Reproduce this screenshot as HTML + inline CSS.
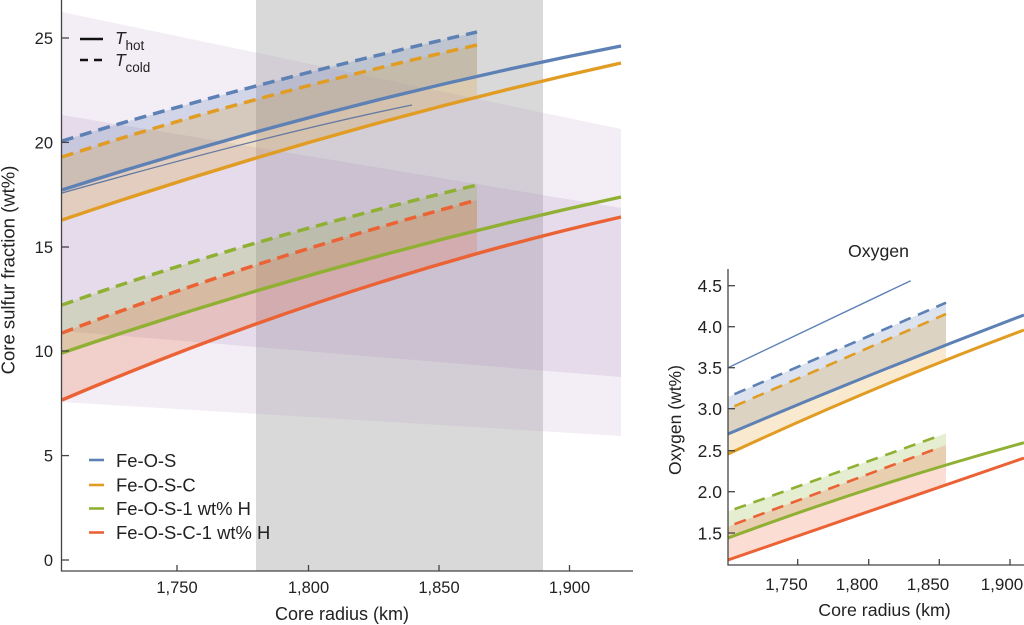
<!DOCTYPE html>
<html><head><meta charset="utf-8"><style>
html,body{margin:0;padding:0;background:#fff;}
svg{display:block;}
text{font-family:"Liberation Sans",Arial,sans-serif;fill:#222;}
</style></head><body>
<svg width="1024" height="625" viewBox="0 0 1024 625" xmlns="http://www.w3.org/2000/svg">
<defs>
<clipPath id="cl"><rect x="62" y="0" width="415" height="571"/></clipPath>
<clipPath id="cr"><rect x="728" y="260" width="218" height="305"/></clipPath>
</defs>
<!-- LEFT CHART -->
<rect x="256" y="0" width="287" height="571" fill="#d9d9d9"/>
<polygon points="62,12 621,129 621,436 62,402" fill="#b89bc4" fill-opacity="0.17"/>
<polygon points="62,115 621,208 621,377 62,331" fill="#b08fc0" fill-opacity="0.2"/>
<!-- fills -->
<g clip-path="url(#cl)">
<path d="M62,141 Q242.5,85.5 477,32 L621,0 L621,46 Q341.5,100.3 62,190 Z" fill="#5E81B5" fill-opacity="0.22"/>
<path d="M62,157 Q242.5,98 477,45 L621,12 L621,63 Q341.5,124.9 62,220 Z" fill="#E19C24" fill-opacity="0.22"/>
<path d="M62,305 Q242.5,241 477,185 L621,150 L621,197 Q341.5,257.6 62,353 Z" fill="#8FB032" fill-opacity="0.22"/>
<path d="M62,333 Q242.5,263.5 477,200 L621,160 L621,217 Q341.5,280.9 62,400 Z" fill="#EB6235" fill-opacity="0.22"/>
</g>
<!-- lines -->
<g fill="none" stroke-linejoin="round">
<path d="M62,193 Q275,133 412,105" stroke="#6479a0" stroke-width="1.3"/>
<path d="M62,141 Q242.5,85.5 477,32" stroke="#5E81B5" stroke-width="3.5" stroke-dasharray="12 7"/>
<path d="M62,157 Q242.5,98 477,45" stroke="#E19C24" stroke-width="3.5" stroke-dasharray="12 7"/>
<path d="M62,305 Q242.5,241 477,185" stroke="#8FB032" stroke-width="3.5" stroke-dasharray="12 7"/>
<path d="M62,333 Q242.5,263.5 477,200" stroke="#EB6235" stroke-width="3.5" stroke-dasharray="12 7"/>
<path d="M62,190 Q341.5,100.3 621,46" stroke="#5E81B5" stroke-width="3.4"/>
<path d="M62,220 Q341.5,124.9 621,63" stroke="#E19C24" stroke-width="3.4"/>
<path d="M62,353 Q341.5,257.6 621,197" stroke="#8FB032" stroke-width="3.4"/>
<path d="M62,400 Q341.5,280.9 621,217" stroke="#EB6235" stroke-width="3.4"/>
</g>
<!-- axes -->
<g stroke="#444" stroke-width="1.3" fill="none">
<line x1="61.5" y1="0" x2="61.5" y2="571.5"/>
<line x1="61" y1="571" x2="633" y2="571"/>
<line x1="62" y1="560" x2="69" y2="560"/>
<line x1="62" y1="455.6" x2="69" y2="455.6"/>
<line x1="62" y1="351" x2="69" y2="351"/>
<line x1="62" y1="247" x2="69" y2="247"/>
<line x1="62" y1="142.4" x2="69" y2="142.4"/>
<line x1="62" y1="38" x2="69" y2="38"/>
<line x1="177" y1="571" x2="177" y2="565"/>
<line x1="308.5" y1="571" x2="308.5" y2="565"/>
<line x1="439" y1="571" x2="439" y2="565"/>
<line x1="569.5" y1="571" x2="569.5" y2="565"/>
</g>
<g font-size="16.5" text-anchor="end">
<text x="53" y="566">0</text>
<text x="53" y="461.6">5</text>
<text x="53" y="357">10</text>
<text x="53" y="253">15</text>
<text x="53" y="148.4">20</text>
<text x="53" y="44">25</text>
</g>
<g font-size="16.5" text-anchor="middle">
<text x="177" y="593">1,750</text>
<text x="308.5" y="593">1,800</text>
<text x="439" y="593">1,850</text>
<text x="569.5" y="593">1,900</text>
</g>
<text x="342" y="620" font-size="18" text-anchor="middle">Core radius (km)</text>
<text transform="translate(14.5,270) rotate(-90)" font-size="18.5" text-anchor="middle">Core sulfur fraction (wt%)</text>
<!-- T legend -->
<line x1="80" y1="39" x2="103" y2="39" stroke="#111" stroke-width="2.6"/>
<line x1="80" y1="60" x2="103" y2="60" stroke="#111" stroke-width="2.6" stroke-dasharray="8 6"/>
<text x="115" y="44" font-size="17.5" font-style="italic">T</text>
<text x="125.5" y="50" font-size="13.5">hot</text>
<text x="115" y="66" font-size="17.5" font-style="italic">T</text>
<text x="125.5" y="72" font-size="13.5">cold</text>
<!-- series legend -->
<g stroke-width="2.6">
<line x1="89" y1="460" x2="104" y2="460" stroke="#5E81B5"/>
<line x1="89" y1="485" x2="104" y2="485" stroke="#E19C24"/>
<line x1="89" y1="508.5" x2="104" y2="508.5" stroke="#8FB032"/>
<line x1="89" y1="532.5" x2="104" y2="532.5" stroke="#EB6235"/>
</g>
<g font-size="18.4">
<text x="116" y="466.8">Fe-O-S</text>
<text x="116" y="491.3">Fe-O-S-C</text>
<text x="116" y="514.8">Fe-O-S-1 wt% H</text>
<text x="116" y="538.8">Fe-O-S-C-1 wt% H</text>
</g>

<!-- RIGHT CHART -->
<g clip-path="url(#cr)">
<path d="M728,397 L946,302.7 L1024,270 L1024,315 Q876,371.1 728,434 Z" fill="#5E81B5" fill-opacity="0.22"/>
<path d="M728,409 L946,314 L1024,280 L1024,330 Q876,385.2 728,454 Z" fill="#E19C24" fill-opacity="0.22"/>
<path d="M728,511.5 L946,433.4 L1024,405 L1024,442.7 Q876,483.2 728,538 Z" fill="#8FB032" fill-opacity="0.22"/>
<path d="M728,526.6 L946,445 L1024,415 L1024,458 Q876,509.4 728,560 Z" fill="#EB6235" fill-opacity="0.22"/>
</g>
<g fill="none" stroke-linejoin="round">
<line x1="728" y1="367.7" x2="910.7" y2="280.7" stroke="#5E81B5" stroke-width="1.4"/>
<line x1="728" y1="397" x2="946" y2="302.7" stroke="#5E81B5" stroke-width="2.6" stroke-dasharray="12 8" stroke-dashoffset="13"/>
<line x1="728" y1="409" x2="946" y2="314" stroke="#E19C24" stroke-width="2.6" stroke-dasharray="12 8" stroke-dashoffset="13"/>
<line x1="728" y1="511.5" x2="936" y2="437" stroke="#8FB032" stroke-width="2.6" stroke-dasharray="12 8" stroke-dashoffset="13"/>
<line x1="728" y1="526.6" x2="933" y2="450" stroke="#EB6235" stroke-width="2.6" stroke-dasharray="12 8" stroke-dashoffset="13"/>
<path d="M728,434 Q876,371.1 1024,315" stroke="#5E81B5" stroke-width="3"/>
<path d="M728,454 Q876,385.2 1024,330" stroke="#E19C24" stroke-width="3"/>
<path d="M728,538 Q876,483.2 1024,442.7" stroke="#8FB032" stroke-width="3"/>
<path d="M728,560 Q876,509.4 1024,458" stroke="#EB6235" stroke-width="3"/>
</g>
<g stroke="#444" stroke-width="1.3" fill="none">
<line x1="728" y1="269" x2="728" y2="565.5"/>
<line x1="727.5" y1="565" x2="1024" y2="565"/>
<line x1="728" y1="285.7" x2="735" y2="285.7"/>
<line x1="728" y1="326.7" x2="735" y2="326.7"/>
<line x1="728" y1="367.7" x2="735" y2="367.7"/>
<line x1="728" y1="408.7" x2="735" y2="408.7"/>
<line x1="728" y1="450.7" x2="735" y2="450.7"/>
<line x1="728" y1="491.7" x2="735" y2="491.7"/>
<line x1="728" y1="533" x2="735" y2="533"/>
<line x1="797.7" y1="565" x2="797.7" y2="559"/>
<line x1="868.7" y1="565" x2="868.7" y2="559"/>
<line x1="939.3" y1="565" x2="939.3" y2="559"/>
<line x1="1010" y1="565" x2="1010" y2="559"/>
</g>
<g font-size="17.5" text-anchor="end">
<text x="722" y="292">4.5</text>
<text x="722" y="333">4.0</text>
<text x="722" y="374">3.5</text>
<text x="722" y="415">3.0</text>
<text x="722" y="457">2.5</text>
<text x="722" y="498">2.0</text>
<text x="722" y="539.3">1.5</text>
</g>
<g font-size="17" text-anchor="middle">
<text x="786.5" y="590">1,750</text>
<text x="857" y="590">1,800</text>
<text x="928" y="590">1,850</text>
<text x="1002" y="590">1,900</text>
</g>
<text x="884.5" y="616" font-size="17.8" text-anchor="middle">Core radius (km)</text>
<text x="878.5" y="257" font-size="17.7" text-anchor="middle">Oxygen</text>
<text transform="translate(681,420) rotate(-90)" font-size="17.5" text-anchor="middle">Oxygen (wt%)</text>
</svg>
</body></html>
